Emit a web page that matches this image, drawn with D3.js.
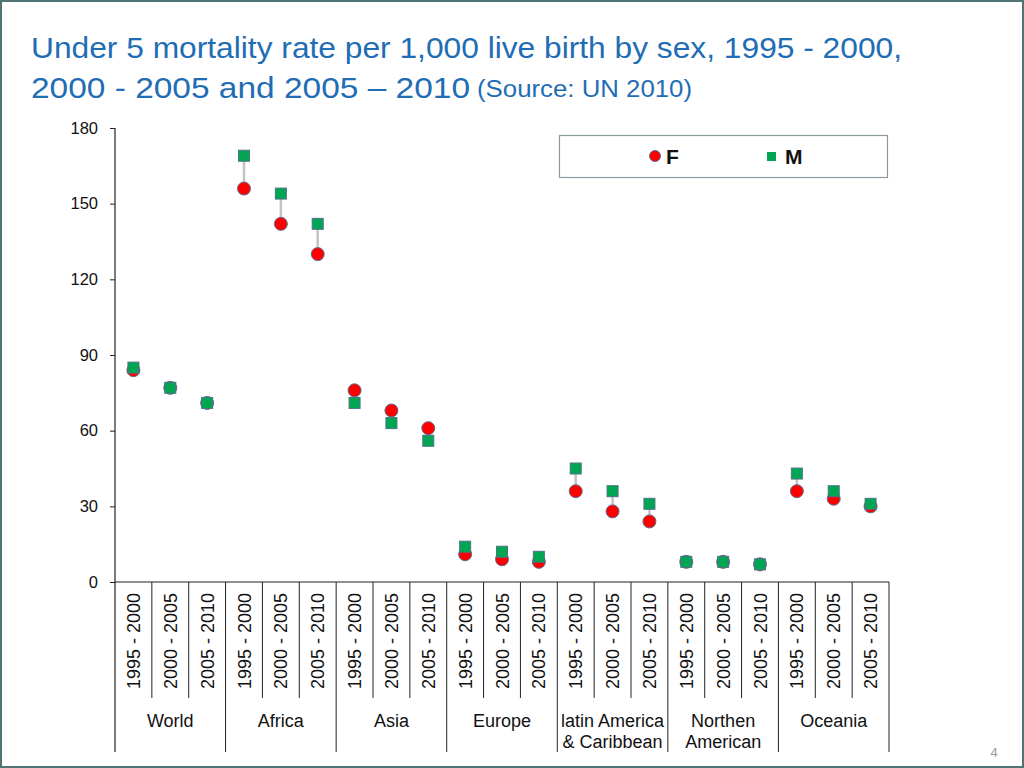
<!DOCTYPE html>
<html><head><meta charset="utf-8">
<script src="https://cdn.jsdelivr.net/npm/d3@7"></script>
<style>html,body{margin:0;padding:0;background:#fff;}svg{display:block;}</style>
</head><body>
<script>
const regions = ["World","Africa","Asia","Europe","latin America\n& Caribbean","Northen\nAmerican","Oceania"];
const periods = ["1995 - 2000","2000 - 2005","2005 - 2010"];
const femaleValues = [84,77,71, 156,142,130, 76,68,61, 11,9,8, 36,28,24, 8,8,7, 36,33,30];
const maleValues   = [85,77,71, 169,154,142, 71,63,56, 14,12,10, 45,36,31, 8,8,7, 43,36,31];
const yTicks = [0,30,60,90,120,150,180];
const seriesNames = ["F","M"];

const W=1024,H=768;
const svg=d3.select("body").append("svg").attr("width",W).attr("height",H);
svg.append("rect").attr("x",1).attr("y",1).attr("width",W-2).attr("height",H-2)
  .attr("fill","#fff").attr("stroke","#4f7474").attr("stroke-width",2);

// title
const tcol="#1f6db4";
const tfont="'Liberation Sans Narrow','Liberation Sans',Arial,sans-serif";
svg.append("text").attr("x",31).attr("y",58).attr("fill",tcol)
  .attr("font-family",tfont).attr("font-size",30)
  .attr("textLength",871).attr("lengthAdjust","spacingAndGlyphs")
  .text("Under 5 mortality rate per 1,000 live birth by sex, 1995 - 2000,");
svg.append("text").attr("x",31).attr("y",98).attr("fill",tcol)
  .attr("font-family",tfont).attr("font-size",30)
  .attr("textLength",439).attr("lengthAdjust","spacingAndGlyphs")
  .text("2000 - 2005 and 2005 \u2013 2010");
svg.append("text").attr("x",477).attr("y",97).attr("fill",tcol)
  .attr("font-family",tfont).attr("font-size",23)
  .attr("textLength",215).attr("lengthAdjust","spacingAndGlyphs")
  .text("(Source: UN 2010)");

const cats = [];
regions.forEach((r,i)=>periods.forEach((p,j)=>cats.push({key:i+"_"+j,region:i,period:p})));
const x=d3.scaleBand().domain(cats.map(d=>d.key)).range([115,889]).paddingInner(0).paddingOuter(0);
const y=d3.scaleLinear().domain([0,180]).range([582,128]);

const font="'Liberation Sans',Arial,sans-serif";
const axisCol="#222";

// y axis
const yAxis=svg.append("g").attr("transform","translate(115,0)")
  .call(d3.axisLeft(y).tickValues(yTicks).tickSize(5).tickPadding(12));
yAxis.select(".domain").remove();
yAxis.selectAll("line").attr("stroke",axisCol);
yAxis.selectAll("text").attr("font-family",font).attr("font-size",16.5).attr("fill","#111");
svg.append("line").attr("x1",115).attr("x2",115).attr("y1",128).attr("y2",752).attr("stroke",axisCol).attr("stroke-width",1.2);

// x axis baseline
svg.append("line").attr("x1",115).attr("x2",889).attr("y1",582).attr("y2",582).attr("stroke",axisCol).attr("stroke-width",1.2);

// category boundaries and period labels
const bw=x.bandwidth();
cats.forEach((c,i)=>{
  const xr=x(c.key)+bw;
  const isGroupEnd=(i%3===2);
  svg.append("line").attr("x1",xr).attr("x2",xr).attr("y1",582).attr("y2",isGroupEnd?752:698)
    .attr("stroke",axisCol).attr("stroke-width",1);
  const cx=x(c.key)+bw/2;
  svg.append("text").attr("transform",`translate(${cx+6.5},593) rotate(-90)`)
    .attr("text-anchor","end").attr("font-family",font).attr("font-size",18).attr("fill","#111")
    .text(c.period);
});
// group labels
regions.forEach((r,i)=>{
  const x0=x(i+"_0"), x1=x(i+"_2")+bw;
  r.split("\n").forEach((ln,k)=>{
    svg.append("text").attr("x",(x0+x1)/2).attr("y",726.5+k*21).attr("text-anchor","middle")
      .attr("font-family",font).attr("font-size",18).attr("fill","#111").text(ln);
  });
});

// connectors
const data=cats.map((c,i)=>({key:c.key,F:femaleValues[i],M:maleValues[i]}));
svg.append("g").selectAll("line").data(data).join("line")
  .attr("x1",d=>x(d.key)+bw/2).attr("x2",d=>x(d.key)+bw/2)
  .attr("y1",d=>y(d.F)).attr("y2",d=>y(d.M))
  .attr("stroke","#c4c4c4").attr("stroke-width",2.5);
// F markers
svg.append("g").selectAll("circle").data(data).join("circle")
  .attr("cx",d=>x(d.key)+bw/2).attr("cy",d=>y(d.F)).attr("r",6.5)
  .attr("fill","#ff0000").attr("stroke","#5a7090").attr("stroke-width",1);
// M markers
const s=11;
svg.append("g").selectAll("rect").data(data).join("rect")
  .attr("x",d=>x(d.key)+bw/2-s/2).attr("y",d=>y(d.M)-s/2).attr("width",s).attr("height",s)
  .attr("fill","#00a651").attr("stroke","#4f7488").attr("stroke-width",1);

// legend
svg.append("rect").attr("x",559.5).attr("y",135.5).attr("width",328).attr("height",42)
  .attr("fill","#fff").attr("stroke","#8a9a9e").attr("stroke-width",1.2);
svg.append("circle").attr("cx",655).attr("cy",156).attr("r",5.5).attr("fill","#ff0000").attr("stroke","#5a7090").attr("stroke-width",1);
svg.append("text").attr("x",666).attr("y",163.5).attr("font-family",font).attr("font-weight","bold").attr("font-size",21).attr("fill","#111").text(seriesNames[0]);
svg.append("rect").attr("x",767).attr("y",152).attr("width",9).attr("height",9).attr("fill","#00a651");
svg.append("text").attr("x",785).attr("y",163.5).attr("font-family",font).attr("font-weight","bold").attr("font-size",21).attr("fill","#111").text(seriesNames[1]);

// page number
svg.append("text").attr("x",994).attr("y",757).attr("text-anchor","middle").attr("font-family",font).attr("font-size",13).attr("fill","#999").text("4");
</script>
</body></html>
